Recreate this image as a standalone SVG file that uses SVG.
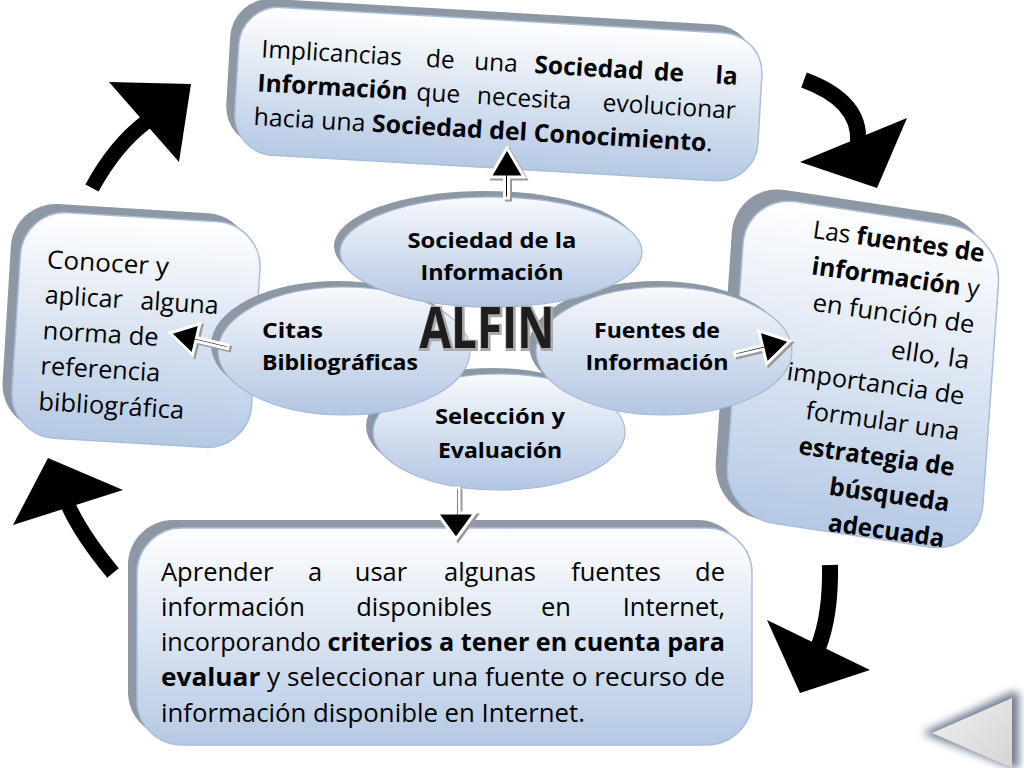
<svg xmlns="http://www.w3.org/2000/svg" width="1024" height="768" viewBox="0 0 1024 768">
<defs>
  <linearGradient id="gBox" x1="0" y1="0" x2="0" y2="1">
    <stop offset="0" stop-color="#ffffff"/>
    <stop offset="1" stop-color="#b5c9e4"/>
  </linearGradient>
  <linearGradient id="gEl" x1="0" y1="0" x2="0" y2="1">
    <stop offset="0" stop-color="#f7f9fc"/>
    <stop offset="1" stop-color="#b2c6e2"/>
  </linearGradient>
  <linearGradient id="gNav" x1="0" y1="0" x2="1" y2="1">
    <stop offset="0" stop-color="#f0f0f0"/>
    <stop offset="1" stop-color="#d4d4d4"/>
  </linearGradient>
  <filter id="blur" x="-30%" y="-30%" width="160%" height="160%"><feGaussianBlur stdDeviation="4"/></filter>
</defs>
<style>
  .depth { fill:#8d98a4; }
  .face { fill:url(#gBox); stroke:#a9bedb; stroke-width:1.5; }
  .eface { fill:url(#gEl); stroke:#a4b9d6; stroke-width:1.2; }
  .t { font-family:"Open Sans","Noto Sans",sans-serif; fill:#000; }
  .tt { font-size:24.5px; }
  .tl { font-size:25px; }
  .tb { font-size:25.5px; }
  .b { font-weight:700; }
  .lbl { font-family:"Open Sans","Noto Sans",sans-serif; font-size:21px; font-weight:700; fill:#000; }
  .shaft { fill:none; stroke:#000; stroke-width:15; }
  .head { fill:#000; }
  .conn { fill:#000; stroke:#fff; stroke-width:3; stroke-linejoin:miter; }
  .connsh { fill:#9a9a9a; stroke:#9a9a9a; stroke-width:3; }
</style>

<!-- Top box -->
<g id="box-top" transform="rotate(3.3 497 100)">
  <rect class="depth" x="227" y="12" width="524" height="148" rx="40"/>
  <rect class="face" x="236" y="20" width="524" height="148" rx="40"/>
  <text class="t tt" x="259" y="71">Implicancias</text>
  <text class="t tt" x="438" y="71" text-anchor="middle">de</text>
  <text class="t tt" x="494" y="71" text-anchor="middle">una</text>
  <text class="t tt b" x="587" y="71" text-anchor="middle">Sociedad</text>
  <text class="t tt b" x="667" y="71" text-anchor="middle">de</text>
  <text class="t tt b" x="736" y="71" text-anchor="end">la</text>
  <text class="t tt b" x="257" y="105">Información</text>
  <text class="t tt" x="438" y="105" text-anchor="middle">que</text>
  <text class="t tt" x="524" y="105" text-anchor="middle">necesita</text>
  <text class="t tt" x="736" y="105" text-anchor="end">evolucionar</text>
  <text class="t tt" x="255" y="139" textLength="460" lengthAdjust="spacingAndGlyphs">hacia una <tspan class="b">Sociedad del Conocimiento</tspan>.</text>
</g>

<!-- Left box -->
<g id="box-left" transform="rotate(3.5 136 330)">
  <rect class="depth" x="6" y="209" width="240" height="226" rx="45"/>
  <rect class="face" x="16" y="217" width="240" height="226" rx="45"/>
  <text class="t tl" x="43" y="273.5" textLength="122" lengthAdjust="spacingAndGlyphs">Conocer y</text>
  <text class="t tl" x="43" y="309">aplicar</text>
  <text class="t tl" x="217" y="309" text-anchor="end">alguna</text>
  <text class="t tl" x="43" y="344.6" textLength="116" lengthAdjust="spacingAndGlyphs">norma de</text>
  <text class="t tl" x="43" y="380" textLength="120" lengthAdjust="spacingAndGlyphs">referencia</text>
  <text class="t tl" x="43" y="415.8" textLength="146" lengthAdjust="spacingAndGlyphs">bibliográfica</text>
</g>

<!-- Right box -->
<g id="box-right">
  <g transform="matrix(0.99 0.15 -0.07 0.998 867 374)">
    <rect class="depth" x="-145" y="-170" width="258" height="330" rx="50"/>
    <rect class="face" x="-133" y="-160" width="258" height="322" rx="50"/>
  </g>
  <g transform="rotate(8 880 400)">
    <text class="t tl" x="963" y="249" text-anchor="end" textLength="173" lengthAdjust="spacingAndGlyphs">Las <tspan class="b">fuentes de</tspan></text>
    <text class="t tl" x="963" y="285" text-anchor="end" textLength="169" lengthAdjust="spacingAndGlyphs"><tspan class="b">información</tspan> y</text>
    <text class="t tl" x="963" y="321" text-anchor="end" textLength="163" lengthAdjust="spacingAndGlyphs">en función de</text>
    <text class="t tl" x="963" y="357" text-anchor="end" textLength="79" lengthAdjust="spacingAndGlyphs">ello, la</text>
    <text class="t tl" x="963" y="393" text-anchor="end" textLength="179" lengthAdjust="spacingAndGlyphs">importancia de</text>
    <text class="t tl" x="963" y="429" text-anchor="end" textLength="155" lengthAdjust="spacingAndGlyphs">formular una</text>
    <text class="t tl b" x="963" y="465" text-anchor="end" textLength="157" lengthAdjust="spacingAndGlyphs">estrategia de</text>
    <text class="t tl b" x="963" y="501" text-anchor="end" textLength="121" lengthAdjust="spacingAndGlyphs">búsqueda</text>
    <text class="t tl b" x="963" y="537" text-anchor="end" textLength="117" lengthAdjust="spacingAndGlyphs">adecuada</text>
  </g>
</g>

<!-- Bottom box -->
<g id="box-bottom">
  <rect class="depth" x="128" y="520" width="615" height="217" rx="45"/>
  <rect class="face" x="137" y="528" width="615" height="217" rx="45"/>
  <text class="t tb" x="161" y="581">Aprender</text>
  <text class="t tb" x="315" y="581" text-anchor="middle">a</text>
  <text class="t tb" x="381" y="581" text-anchor="middle">usar</text>
  <text class="t tb" x="490" y="581" text-anchor="middle">algunas</text>
  <text class="t tb" x="616" y="581" text-anchor="middle">fuentes</text>
  <text class="t tb" x="725" y="581" text-anchor="end">de</text>
  <text class="t tb" x="161" y="616">información</text>
  <text class="t tb" x="424" y="616" text-anchor="middle">disponibles</text>
  <text class="t tb" x="556" y="616" text-anchor="middle">en</text>
  <text class="t tb" x="725" y="616" text-anchor="end">Internet,</text>
  <text class="t tb" x="161" y="651" textLength="564" lengthAdjust="spacingAndGlyphs">incorporando <tspan class="b">criterios a tener en cuenta para</tspan></text>
  <text class="t tb" x="161" y="686" textLength="564" lengthAdjust="spacingAndGlyphs"><tspan class="b">evaluar</tspan> y seleccionar una fuente o recurso de</text>
  <text class="t tb" x="161" y="722" textLength="424" lengthAdjust="spacingAndGlyphs">información disponible en Internet.</text>
</g>

<!-- Ellipses -->
<g id="el-seleccion">
  <ellipse class="depth" cx="492" cy="426" rx="126" ry="58"/>
  <ellipse class="eface" cx="499" cy="432" rx="126" ry="58"/>
  <text class="lbl" x="500" y="424" text-anchor="middle" textLength="130" lengthAdjust="spacingAndGlyphs">Selección y</text>
  <text class="lbl" x="500" y="458" text-anchor="middle" textLength="124" lengthAdjust="spacingAndGlyphs">Evaluación</text>
</g>
<g id="el-fuentes">
  <ellipse class="depth" cx="657" cy="345" rx="128" ry="64"/>
  <ellipse class="eface" cx="664" cy="351" rx="128" ry="64"/>
  <text class="lbl" x="657" y="338" text-anchor="middle" textLength="126" lengthAdjust="spacingAndGlyphs">Fuentes de</text>
  <text class="lbl" x="657" y="370" text-anchor="middle" textLength="143" lengthAdjust="spacingAndGlyphs">Información</text>
</g>
<g id="el-citas">
  <ellipse class="depth" cx="337" cy="345" rx="126" ry="64"/>
  <ellipse class="eface" cx="344" cy="351" rx="126" ry="64"/>
  <text class="lbl" x="262" y="338" textLength="61" lengthAdjust="spacingAndGlyphs">Citas</text>
  <text class="lbl" x="262" y="370" textLength="156" lengthAdjust="spacingAndGlyphs">Bibliográficas</text>
</g>
<g id="el-sociedad">
  <ellipse class="depth" cx="485" cy="246" rx="151" ry="55"/>
  <ellipse class="eface" cx="491" cy="252" rx="151" ry="55"/>
  <text class="lbl" x="492" y="248" text-anchor="middle" textLength="169" lengthAdjust="spacingAndGlyphs">Sociedad de la</text>
  <text class="lbl" x="492" y="280" text-anchor="middle" textLength="143" lengthAdjust="spacingAndGlyphs">Información</text>
</g>

<g id="alfin">
  <text x="488" y="349" text-anchor="middle" font-family="Open Sans, Noto Sans, sans-serif" font-weight="700" font-size="57" textLength="135" lengthAdjust="spacingAndGlyphs" fill="#888" stroke="#aaa" stroke-width="4">ALFIN</text>
  <text x="487" y="348" text-anchor="middle" font-family="Open Sans, Noto Sans, sans-serif" font-weight="700" font-size="57" textLength="135" lengthAdjust="spacingAndGlyphs" fill="#1e1e1e">ALFIN</text>
</g>

<!-- Connectors -->
<g id="connectors">
  <g transform="translate(2 2)">
    <polygon class="connsh" points="504.5,198 504.5,177 490,177 507,148 524,177 508.5,177 508.5,198"/>
    <polygon class="connsh" points="228.4,345.25 196.6,337.55 199.9,323.7 170,333 192.5,354.9 195.8,341.05 227.6,348.75"/>
    <polygon class="connsh" points="734.6,352.25 762.4,345.65 758.9,330.9 790,341 766.7,363.9 763.2,349.15 735.4,355.75"/>
    <polygon class="connsh" points="455.5,488 455.5,513 437,513 456,539 475,513 459,513 459,488"/>
  </g>
  <polygon class="conn" points="504.5,198 504.5,177 490,177 507,148 524,177 508.5,177 508.5,198"/>
  <polygon class="conn" points="228.4,345.25 196.6,337.55 199.9,323.7 170,333 192.5,354.9 195.8,341.05 227.6,348.75"/>
  <polygon class="conn" points="734.6,352.25 762.4,345.65 758.9,330.9 790,341 766.7,363.9 763.2,349.15 735.4,355.75"/>
  <polygon class="conn" points="455.5,488 455.5,513 437,513 456,539 475,513 459,513 459,488"/>

  <path class="shaft" d="M92,188 Q115,145.5 146,122"/>
  <polygon class="head" points="109,82 191,84 179,162"/>
  <path class="shaft" d="M804,80 Q861,101 858,142" style="stroke-width:16"/>
  <polygon class="head" points="800,162 907,118 877,188"/>
  <path class="shaft" d="M830,565 Q831,615 818,648" style="stroke-width:16"/>
  <polygon class="head" points="767,620 870,670 800,693"/>
  <path class="shaft" d="M113,573 Q81.5,535 68,505"/>
  <polygon class="head" points="48,458 123,490 13,525"/>
</g>

<!-- Navigation button -->
<g id="nav-back">
  <polygon points="922,733 1012,692 1019,692 1019,768 1012,768" fill="#56657c" opacity="0.85" filter="url(#blur)"/>
  <polygon points="932,733 1012,698 1012,768" fill="url(#gNav)"/>
</g>
</svg>
